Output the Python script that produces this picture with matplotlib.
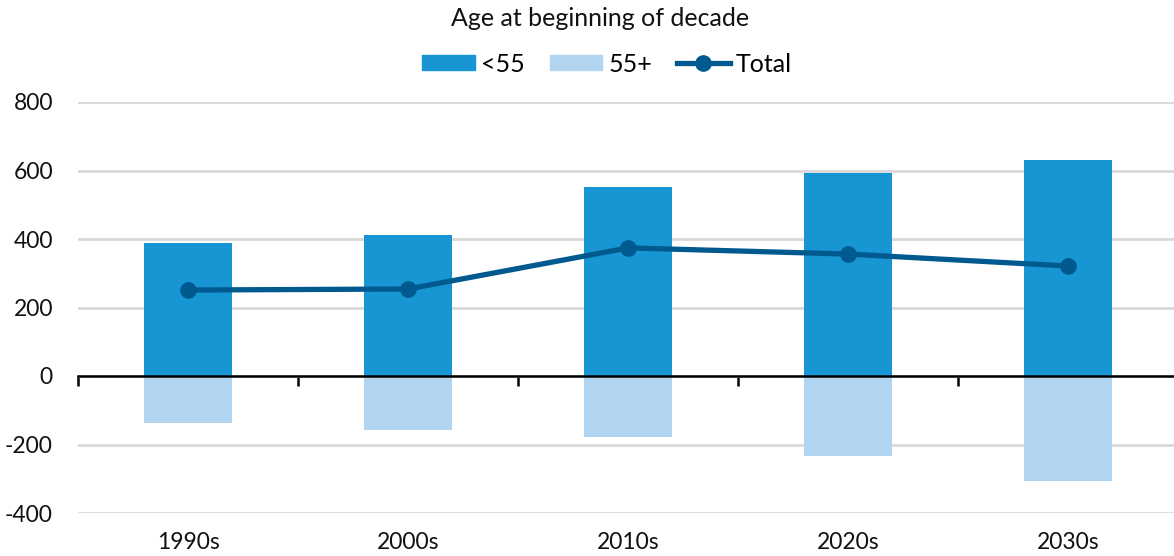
import matplotlib.pyplot as plt
import numpy as np
from matplotlib.patches import Patch
from matplotlib.lines import Line2D

plt.rcParams['font.family'] = ['Lato', 'DejaVu Sans']
plt.rcParams['axes.unicode_minus'] = False

# data
decades = ['1990s', '2000s', '2010s', '2020s', '2030s']
under55 = [388, 412, 552, 593, 631]
over55 = [-137, -158, -178, -234, -307]
total = [251, 254, 374, 356, 321]

c_under = '#1896d3'
c_over = '#b1d5f0'
c_line = '#005a8f'

fig = plt.figure(figsize=(11.74, 5.56), dpi=100)
ax = fig.add_axes([78/1174, 43/556, 1 - 78/1174, 411/556])

x = np.arange(len(decades))
ax.bar(x, under55, width=0.4, color=c_under, zorder=2)
ax.bar(x, over55, width=0.4, color=c_over, zorder=2)
ax.plot(x, total, color=c_line, lw=3.8, marker='o', ms=11, zorder=3)

ax.set_xlim(-0.5, 4.48)
ax.set_ylim(-400, 800)
ax.set_yticks(np.arange(-400, 801, 200))
ax.tick_params(axis='y', length=0, labelsize=16.5, pad=18, labelcolor='#111111')
ax.yaxis.grid(True, color='#d9d9d9', lw=2)
ax.set_axisbelow(True)

for s in ['top', 'right', 'left']:
    ax.spines[s].set_visible(False)
ax.spines['bottom'].set_position(('data', 0))
ax.spines['bottom'].set_linewidth(1.8)
ax.spines['bottom'].set_zorder(4)
ax.set_xticks(np.arange(-0.5, 4.0, 1.0))
ax.tick_params(axis='x', direction='out', length=7, width=1.8, labelbottom=False)

sec = ax.secondary_xaxis('bottom')
sec.set_xticks(x)
sec.set_xticklabels(decades)
sec.tick_params(length=0, labelsize=16.5, pad=14, labelcolor='#111111')
sec.spines['bottom'].set_visible(False)

fig.text(600/1174, 1 - 18/556, 'Age at beginning of decade', ha='center', va='center',
         fontsize=18, color='#111111')

handles = [Patch(color=c_under, label='<55'),
           Patch(color=c_over, label='55+'),
           Line2D([], [], color=c_line, lw=3.8, marker='o', ms=11, label='Total')]
fig.legend(handles=handles, loc='center', bbox_to_anchor=(607/1174, 1 - 64/556), ncol=3,
           frameon=False, fontsize=18, handlelength=2.1, handleheight=0.52,
           handletextpad=0.25, columnspacing=1.0)

fig.savefig('out.png', dpi=100)
